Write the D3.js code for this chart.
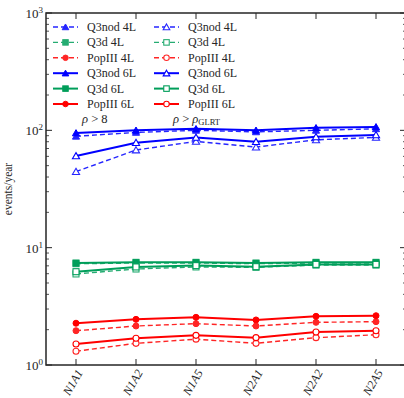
<!DOCTYPE html>
<html>
<head>
<meta charset="utf-8">
<script src="https://cdn.jsdelivr.net/npm/d3@7"></script>
<style>
  html, body { margin: 0; padding: 0; background: #fff; }
  svg { display: block; }
</style>
</head>
<body>
<svg id="chart" width="404" height="398"></svg>
<script>
// Detector configurations along the x axis
const categories = ["N1A1", "N1A2", "N1A5", "N2A1", "N2A2", "N2A5"];

// Detection rates (events/year), threshold rho > 8
const q3nod4L = [89, 96, 100, 97, 100, 103];
const q3d4L = [7.3, 7.4, 7.4, 7.3, 7.4, 7.4];
const popIII4L = [1.96, 2.15, 2.25, 2.15, 2.31, 2.34];
const q3nod6L = [95, 100, 103, 100, 105, 107];
const q3d6L = [7.4, 7.5, 7.5, 7.4, 7.5, 7.5];
const popIII6L = [2.27, 2.45, 2.55, 2.42, 2.6, 2.63];

// Detection rates (events/year), threshold rho > rho_GLRT
const q3nod4Lg = [44.5, 68, 80.5, 72, 83, 87];
const q3d4Lg = [5.97, 6.58, 6.85, 6.8, 7.1, 7.1];
const popIII4Lg = [1.31, 1.53, 1.66, 1.53, 1.71, 1.81];
const q3nod6Lg = [60.5, 78.5, 87, 80, 88, 91.4];
const q3d6Lg = [6.24, 6.85, 7.03, 6.89, 7.2, 7.2];
const popIII6Lg = [1.51, 1.69, 1.79, 1.71, 1.91, 1.96];

const yTickValues = [1, 10, 100, 1000];
const yTickExponents = ["0", "1", "2", "3"];

const BLUE = "#0000ff", GREEN = "#009e5a", RED = "#ff0000";
const FONT = "Liberation Serif";

const series = [
  { name: "Q3nod 4L", values: q3nod4L, color: BLUE, dash: true, marker: "triangle", filled: true },
  { name: "Q3d 4L", values: q3d4L, color: GREEN, dash: true, marker: "square", filled: true },
  { name: "PopIII 4L", values: popIII4L, color: RED, dash: true, marker: "circle", filled: true },
  { name: "Q3nod 6L", values: q3nod6L, color: BLUE, dash: false, marker: "triangle", filled: true },
  { name: "Q3d 6L", values: q3d6L, color: GREEN, dash: false, marker: "square", filled: true },
  { name: "PopIII 6L", values: popIII6L, color: RED, dash: false, marker: "circle", filled: true },
  { name: "Q3nod 4L", values: q3nod4Lg, color: BLUE, dash: true, marker: "triangle", filled: false },
  { name: "Q3d 4L", values: q3d4Lg, color: GREEN, dash: true, marker: "square", filled: false },
  { name: "PopIII 4L", values: popIII4Lg, color: RED, dash: true, marker: "circle", filled: false },
  { name: "Q3nod 6L", values: q3nod6Lg, color: BLUE, dash: false, marker: "triangle", filled: false },
  { name: "Q3d 6L", values: q3d6Lg, color: GREEN, dash: false, marker: "square", filled: false },
  { name: "PopIII 6L", values: popIII6Lg, color: RED, dash: false, marker: "circle", filled: false }
];

const margin = { left: 46, top: 13, right: 406, bottom: 365 };
const svg = d3.select("#chart");
const INK = "#262626";

const x = d3.scaleBand().domain(categories).range([margin.left, margin.right]);
const xc = d => x(d) + x.bandwidth() / 2;
const y = d3.scaleLog().domain([1, 1000]).range([margin.bottom, margin.top]);

// Axes with inward ticks on all four sides
const minorTicks = [];
for (let e = 0; e < 3; e++) for (let m = 2; m <= 9; m++) minorTicks.push(m * Math.pow(10, e));

function yAxisAt(xpos, dir) {
  const g = svg.append("g");
  g.selectAll("line.maj").data(yTickValues).join("line")
    .attr("x1", xpos).attr("x2", xpos + dir * 6)
    .attr("y1", d => y(d)).attr("y2", d => y(d))
    .attr("stroke", INK).attr("stroke-width", 1);
  g.selectAll("line.min").data(minorTicks).join("line")
    .attr("x1", xpos).attr("x2", xpos + dir * 3)
    .attr("y1", d => y(d)).attr("y2", d => y(d))
    .attr("stroke", INK).attr("stroke-width", 0.8);
}
yAxisAt(margin.left, 1);
yAxisAt(margin.right, -1);

function xAxisAt(ypos, dir) {
  svg.append("g").selectAll("line").data(categories).join("line")
    .attr("x1", d => xc(d)).attr("x2", d => xc(d))
    .attr("y1", ypos).attr("y2", ypos + dir * 6)
    .attr("stroke", INK).attr("stroke-width", 1);
}
xAxisAt(margin.bottom, -1);
xAxisAt(margin.top, 1);

// Frame
svg.append("rect")
  .attr("x", margin.left).attr("y", margin.top)
  .attr("width", margin.right - margin.left).attr("height", margin.bottom - margin.top)
  .attr("fill", "none").attr("stroke", INK).attr("stroke-width", 1.5);

// Y tick labels: 10^n
const yl = svg.append("g").attr("fill", INK);
yTickValues.forEach((v, i) => {
  const t = yl.append("text")
    .attr("x", margin.left - 3).attr("y", y(v) + 5)
    .attr("text-anchor", "end").attr("font-size", 13);
  t.append("tspan").text("10");
  t.append("tspan").attr("dy", -5).attr("font-size", 9).text(yTickExponents[i]);
});

// X tick labels, rotated
svg.append("g").attr("fill", INK).selectAll("text").data(categories).join("text")
  .attr("transform", d => `translate(${xc(d) - 2},${margin.bottom + 18}) rotate(-60)`)
  .attr("text-anchor", "middle").attr("dominant-baseline", "middle")
  .attr("font-size", 12).attr("font-style", "italic")
  .text(d => d);

// Y axis title
svg.append("text")
  .attr("transform", `translate(12,${(margin.top + margin.bottom) / 2}) rotate(-90)`)
  .attr("text-anchor", "middle").attr("font-size", 11.5).attr("fill", INK)
  .text("events/year");

// Marker drawing
function drawMarker(g, type, cx, cy, s, color, filled) {
  let el;
  if (type === "triangle") {
    const sym = d3.symbol().type(d3.symbolTriangle).size(s * s * 0.45)();
    el = g.append("path").attr("d", sym).attr("transform", `translate(${cx},${cy + 0.8})`);
  } else if (type === "square") {
    el = g.append("rect").attr("x", cx - s / 2 + 0.5).attr("y", cy - s / 2 + 0.5)
      .attr("width", s - 1).attr("height", s - 1);
  } else {
    el = g.append("circle").attr("cx", cx).attr("cy", cy).attr("r", s / 2 - 0.5);
  }
  el.attr("fill", filled ? color : "#fff").attr("stroke", color).attr("stroke-width", filled ? 1 : 1.1);
}

const line = d3.line().x((d, i) => xc(categories[i])).y(d => y(d));
const plot = svg.append("g");
series.forEach(s => {
  const g = plot.append("g").attr("opacity", s.dash ? 0.85 : 1);
  g.append("path").datum(s.values)
    .attr("d", line)
    .attr("fill", "none").attr("stroke", s.color)
    .attr("stroke-width", s.dash ? 1.4 : 2)
    .attr("stroke-dasharray", s.dash ? "5,3" : null);
  s.values.forEach((v, i) => drawMarker(g, s.marker, xc(categories[i]), y(v), 7, s.color, s.filled));
});

// Legend: two columns (rho > 8, rho > rho_GLRT)
const legend = svg.append("g");
series.forEach((s, k) => {
  const col = Math.floor(k / 6), row = k % 6;
  const lx = col === 0 ? 53 : 154;
  const ly = 27 + row * 15.4;
  const g = legend.append("g").attr("opacity", s.dash ? 0.85 : 1);
  g.append("line").attr("x1", lx).attr("x2", lx + 25).attr("y1", ly).attr("y2", ly)
    .attr("stroke", s.color).attr("stroke-width", s.dash ? 1.4 : 2)
    .attr("stroke-dasharray", s.dash ? "5,3" : null);
  drawMarker(g, s.marker, lx + 12.5, ly, 6.5, s.color, s.filled);
  legend.append("text").attr("x", lx + 34).attr("y", ly + 4)
    .attr("font-size", 12).attr("fill", INK).text(s.name);
});

// Threshold annotations
const a1 = svg.append("text").attr("x", 82).attr("y", 123).attr("font-size", 12.5).attr("fill", INK);
a1.append("tspan").attr("font-style", "italic").text("ρ");
a1.append("tspan").text(" > 8");
const a2 = svg.append("text").attr("x", 173).attr("y", 123).attr("font-size", 12.5).attr("fill", INK);
a2.append("tspan").attr("font-style", "italic").text("ρ");
a2.append("tspan").text(" > ");
a2.append("tspan").attr("font-style", "italic").text("ρ");
a2.append("tspan").attr("font-size", 8.5).attr("dy", 2).text("GLRT");

// Serif face for every label
svg.selectAll("text").style("font-family", FONT);
</script>
</body>
</html>
